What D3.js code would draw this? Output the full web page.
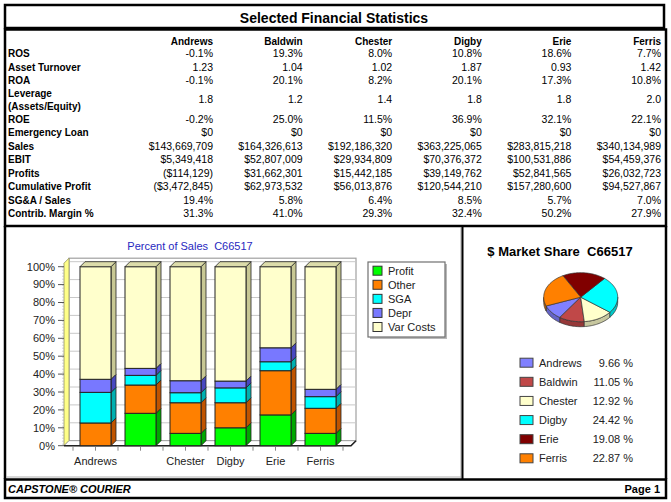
<!DOCTYPE html>
<html><head><meta charset="utf-8">
<script src="https://cdn.jsdelivr.net/npm/d3@7"></script>
<style>body{margin:0;background:#fff;} svg{display:block;font-family:"Liberation Sans",Arial,sans-serif;} text{white-space:pre;}</style>
</head><body><svg id="c" width="671" height="502"></svg>
<script>
// ---------- DATA ----------
const companies = ["Andrews","Baldwin","Chester","Digby","Erie","Ferris"];
const rowLabels = ["ROS","Asset Turnover","ROA","Leverage|(Assets/Equity)","ROE","Emergency Loan","Sales","EBIT","Profits","Cumulative Profit","SG&A / Sales","Contrib. Margin %"];
const rosRow      = ["-0.1%","19.3%","8.0%","10.8%","18.6%","7.7%"];
const turnoverRow = ["1.23","1.04","1.02","1.87","0.93","1.42"];
const roaRow      = ["-0.1%","20.1%","8.2%","20.1%","17.3%","10.8%"];
const leverageRow = ["1.8","1.2","1.4","1.8","1.8","2.0"];
const roeRow      = ["-0.2%","25.0%","11.5%","36.9%","32.1%","22.1%"];
const loanRow     = ["$0","$0","$0","$0","$0","$0"];
const salesRow    = ["$143,669,709","$164,326,613","$192,186,320","$363,225,065","$283,815,218","$340,134,989"];
const ebitRow     = ["$5,349,418","$52,807,009","$29,934,809","$70,376,372","$100,531,886","$54,459,376"];
const profitsRow  = ["($114,129)","$31,662,301","$15,442,185","$39,149,762","$52,841,565","$26,032,723"];
const cumProfRow  = ["($3,472,845)","$62,973,532","$56,013,876","$120,544,210","$157,280,600","$94,527,867"];
const sgaRow      = ["19.4%","5.8%","6.4%","8.5%","5.7%","7.0%"];
const cmRow       = ["31.3%","41.0%","29.3%","32.4%","50.2%","27.9%"];
const tableRows = [rosRow,turnoverRow,roaRow,leverageRow,roeRow,loanRow,salesRow,ebitRow,profitsRow,cumProfRow,sgaRow,cmRow];

const seriesNames = ["Profit","Other","SGA","Depr","Var Costs"];
const profitPct = [0, 18.1, 6.9, 10.0, 17.2, 6.9];
const otherPct  = [12.7, 15.8, 17.1, 14.0, 24.7, 14.0];
const sgaPct    = [17.1, 5.4, 5.6, 8.3, 5.0, 6.5];
const deprPct   = [7.3, 3.9, 6.7, 3.8, 7.8, 4.1];
const varPct    = [62.9, 56.8, 63.7, 63.9, 45.3, 68.5];
const yTicks = [0,10,20,30,40,50,60,70,80,90,100];
const xLabelsShown = ["Andrews","","Chester","Digby","Erie","Ferris"];

const marketShare = [9.66, 11.05, 12.92, 24.42, 19.08, 22.87];

// ---------- STYLE ----------
const barColors = {"Profit":"#00ff00","Other":"#ff8000","SGA":"#00ffff","Depr":"#7878ff","Var Costs":"#ffffcc"};
const sideColors = {"Profit":"#00a800","Other":"#c05400","SGA":"#00b0b0","Depr":"#4848c0","Var Costs":"#c8c894"};
const pieColors = ["#8080ff","#c04848","#ffffcc","#00ffff","#800000","#ff8000"];

const svg = d3.select("#c");

// ---------- FRAMES ----------
svg.append("rect").attr("x",5).attr("y",5).attr("width",659).attr("height",23).attr("fill","#fff").attr("stroke","#000").attr("stroke-width",2.5);
svg.append("text").attr("x",334).attr("y",18).attr("dy","0.35em").attr("text-anchor","middle")
  .attr("font-size",14).attr("font-weight","bold").text("Selected Financial Statistics");
svg.append("rect").attr("x",5).attr("y",29.5).attr("width",661).attr("height",196.5).attr("fill","none").attr("stroke","#000").attr("stroke-width",2.5);
// panels
svg.append("line").attr("x1",5).attr("x2",5).attr("y1",226).attr("y2",479).attr("stroke","#000").attr("stroke-width",2.5);
svg.append("line").attr("x1",666).attr("x2",666).attr("y1",226).attr("y2",479).attr("stroke","#000").attr("stroke-width",2.5);
svg.append("line").attr("x1",461).attr("x2",461).attr("y1",227).attr("y2",478).attr("stroke","#a8a8a8").attr("stroke-width",1);
svg.append("line").attr("x1",462.5).attr("x2",462.5).attr("y1",226).attr("y2",479).attr("stroke","#000").attr("stroke-width",2);
svg.append("line").attr("x1",6).attr("x2",461).attr("y1",477).attr("y2",477).attr("stroke","#b0b0b0").attr("stroke-width",1);
// footer
svg.append("rect").attr("x",5).attr("y",479.5).attr("width",661).attr("height",18.5).attr("fill","#fff").attr("stroke","#000").attr("stroke-width",2.5);
svg.append("text").attr("x",8).attr("y",489).attr("dy","0.35em").attr("font-size",11).attr("font-weight","bold").attr("font-style","italic").text("CAPSTONE® COURIER");
svg.append("text").attr("x",660).attr("y",489).attr("dy","0.35em").attr("text-anchor","end").attr("font-size",11).attr("font-weight","bold").text("Page 1");

// ---------- TABLE ----------
const colX = d3.scalePoint().domain(companies).range([213, 661]);
const tbl = svg.append("g");
tbl.selectAll(".hdr").data(companies).join("text")
  .attr("x",d=>colX(d)).attr("y",41.5).attr("dy","0.35em").attr("text-anchor","end")
  .attr("font-size",10).attr("font-weight","bold").text(d=>d);
let yc = 53.5, prevH = null;
const rowCenters = [];
rowLabels.forEach((lab,i)=>{
  const h = lab.includes("|") ? 25 : 13.5;
  if (prevH !== null) yc += prevH/2 + h/2;
  rowCenters.push(yc); prevH = h;
});
rowLabels.forEach((lab,i)=>{
  const cy = rowCenters[i];
  const parts = lab.split("|");
  if (parts.length === 2) {
    tbl.append("text").attr("x",8).attr("y",cy-6).attr("dy","0.35em").attr("font-size",10).attr("font-weight","bold").text(parts[0]);
    tbl.append("text").attr("x",8).attr("y",cy+6.5).attr("dy","0.35em").attr("font-size",10).attr("font-weight","bold").text(parts[1]);
  } else {
    tbl.append("text").attr("x",8).attr("y",cy).attr("dy","0.35em").attr("font-size",10).attr("font-weight","bold").text(lab);
  }
  tbl.selectAll(null).data(tableRows[i]).join("text")
    .attr("x",(d,j)=>colX(companies[j])).attr("y",cy).attr("dy","0.35em").attr("text-anchor","end")
    .attr("font-size",10.5).text(d=>d);
});

// ---------- STACKED 3D BAR CHART ----------
const DX = 5, DY = 5;
const x = d3.scaleBand().domain(companies).range([73, 343]).paddingInner(14/45).paddingOuter(7/45);
const y = d3.scaleLinear().domain([0,100]).range([445.7, 266.7]);
const X0 = 64, X1 = 351;
const frameTop = y(100) - 3.5;
const pc = svg.append("g");

svg.append("text").attr("x",190).attr("y",246.5).attr("dy","0.35em").attr("text-anchor","middle")
  .attr("font-size",11).attr("fill","#2828c0").text("Percent of Sales  C66517");

// back wall
pc.append("rect").attr("x",X0+DX).attr("y",frameTop-DY).attr("width",X1-X0).attr("height",y(0)-frameTop)
  .attr("fill","#fff").attr("stroke","#a0a0a0").attr("stroke-width",1.2);
pc.selectAll(".grid").data(yTicks).join("line")
  .attr("x1",X0+DX).attr("x2",X1+DX).attr("y1",d=>y(d)-DY).attr("y2",d=>y(d)-DY)
  .attr("stroke","#c8c8c8").attr("stroke-width",1);
// left wall
pc.append("polygon").attr("points",[[X0,frameTop],[X0+DX,frameTop-DY],[X0+DX,y(0)-DY],[X0,y(0)]].join(" "))
  .attr("fill","#ffff88").attr("stroke","#909060").attr("stroke-width",0.8);
// floor
pc.append("polygon").attr("points",[[X0,y(0)],[X0+DX,y(0)-DY],[X1+DX,y(0)-DY],[X1,y(0)]].join(" "))
  .attr("fill","#fff").attr("stroke","#909090").attr("stroke-width",0.8);
pc.append("polyline").attr("points",[[X0,y(0)],[X1,y(0)],[X1+DX,y(0)-DY]].join(" "))
  .attr("fill","none").attr("stroke","#222").attr("stroke-width",1.6);

// y axis
pc.append("line").attr("x1",X0-1).attr("x2",X0-1).attr("y1",y(100)).attr("y2",y(0)).attr("stroke","#aaa").attr("stroke-dasharray","1,2");
pc.selectAll(".yt").data(yTicks).join("line")
  .attr("x1",58).attr("x2",X0).attr("y1",d=>y(d)).attr("y2",d=>y(d)).attr("stroke","#555");
pc.selectAll(".yl").data(yTicks).join("text")
  .attr("x",55).attr("y",d=>y(d)).attr("dy","0.35em").attr("text-anchor","end")
  .attr("font-size",11).attr("fill","#222").text(d=>d+"%");

// x ticks and labels
const xtickPos = [];
companies.forEach(c=>{ xtickPos.push(x(c)-x.step()*7/45); xtickPos.push(x(c)+x.bandwidth()/2); });
xtickPos.push(x(companies[companies.length-1]) + x.bandwidth() + x.step()*7/45);
pc.selectAll(".xt").data(xtickPos).join("line")
  .attr("x1",d=>d).attr("x2",d=>d).attr("y1",y(0)+1).attr("y2",y(0)+5).attr("stroke","#888");
pc.selectAll(".xl").data(companies).join("text")
  .attr("x",d=>x(d)+x.bandwidth()/2).attr("y",461).attr("dy","0.35em").attr("text-anchor","middle")
  .attr("font-size",11).attr("fill","#222").text((d,i)=>xLabelsShown[i]);

// stack
const rows = companies.map((c,i)=>({company:c,"Profit":profitPct[i],"Other":otherPct[i],"SGA":sgaPct[i],"Depr":deprPct[i],"Var Costs":varPct[i]}));
const stacked = d3.stack().keys(seriesNames)(rows);
const bw = x.bandwidth();
companies.forEach((c,ci)=>{
  const g = pc.append("g");
  const xb = x(c);
  stacked.forEach((layer,li)=>{
    const [lo,hi] = layer[ci];
    if (hi - lo <= 0) return;
    const key = layer.key;
    g.append("polygon").attr("points",[[xb+bw,y(hi)],[xb+bw+DX,y(hi)-DY],[xb+bw+DX,y(lo)-DY],[xb+bw,y(lo)]].join(" "))
      .attr("fill",sideColors[key]).attr("stroke","#222").attr("stroke-width",0.8);
    g.append("rect").attr("x",xb).attr("y",y(hi)).attr("width",bw).attr("height",y(lo)-y(hi))
      .attr("fill",barColors[key]).attr("stroke","#222").attr("stroke-width",1);
  });
  const top = stacked[stacked.length-1][ci][1];
  g.append("polygon").attr("points",[[xb,y(top)],[xb+DX,y(top)-DY],[xb+bw+DX,y(top)-DY],[xb+bw,y(top)]].join(" "))
    .attr("fill","#dcdcaa").attr("stroke","#222").attr("stroke-width",0.8);
});

// legend
const lg = svg.append("g");
lg.append("rect").attr("x",370).attr("y",264).attr("width",77).attr("height",75).attr("fill","#b8b8b8");
lg.append("rect").attr("x",368).attr("y",262).attr("width",77).attr("height",75).attr("fill","#fff").attr("stroke","#707070").attr("stroke-width",1.2);
const ly = d3.scalePoint().domain(seriesNames).range([270.7, 327]);
lg.selectAll(".sw").data(seriesNames).join("rect")
  .attr("x",373).attr("y",d=>ly(d)-4.5).attr("width",9).attr("height",9)
  .attr("fill",d=>barColors[d]).attr("stroke","#333").attr("stroke-width",1);
lg.selectAll(".lt").data(seriesNames).join("text")
  .attr("x",388).attr("y",d=>ly(d)).attr("dy","0.35em").attr("font-size",11).attr("fill","#222").text(d=>d);

// ---------- PIE ----------
svg.append("text").attr("x",560).attr("y",251).attr("dy","0.35em").attr("text-anchor","middle")
  .attr("font-size",13).attr("font-weight","bold").text("$ Market Share  C66517");
const cx = 580.7, cy = 297.2, rx = 37, ry = 24.5, depth = 5;
const phi0 = -111*Math.PI/180;
const arcs = d3.pie().sort(null).value(d=>d).startAngle(phi0).endAngle(phi0-2*Math.PI)(marketShare);
const pt = (a,off=0)=>[cx+rx*Math.sin(a), cy-ry*Math.cos(a)+off];
const samples = (a0,a1)=>{ const n = Math.max(2, Math.ceil(Math.abs(a1-a0)/0.04)); return d3.range(n+1).map(k=>a0+(a1-a0)*k/n); };
const pg = svg.append("g");
// sides (front half only)
arcs.forEach((a,i)=>{
  const s = samples(a.startAngle,a.endAngle);
  let seg = [];
  const segs = [];
  s.forEach(t=>{ if (Math.cos(t) < 0.02) seg.push(t); else { if (seg.length>1) segs.push(seg); seg=[]; } });
  if (seg.length>1) segs.push(seg);
  segs.forEach(sg=>{
    const pts = sg.map(t=>pt(t)).concat(sg.slice().reverse().map(t=>pt(t,depth)));
    pg.append("polygon").attr("points",pts.join(" "))
      .attr("fill",d3.color(pieColors[i]).darker(0.7)).attr("stroke","#333").attr("stroke-width",0.7);
  });
});
arcs.forEach((a,i)=>{
  const s = samples(a.startAngle,a.endAngle);
  const pts = [[cx,cy]].concat(s.map(t=>pt(t)));
  pg.append("polygon").attr("points",pts.join(" "))
    .attr("fill",pieColors[i]).attr("stroke","#333").attr("stroke-width",0.7);
});

// pie legend
const py = d3.scalePoint().domain(companies).range([362.7, 458.3]);
const pl = svg.append("g");
pl.selectAll(".ps").data(companies).join("rect")
  .attr("x",520).attr("y",d=>py(d)-4.5).attr("width",13).attr("height",9)
  .attr("fill",(d,i)=>pieColors[i]).attr("stroke","#444").attr("stroke-width",1);
pl.selectAll(".pn").data(companies).join("text")
  .attr("x",539).attr("y",d=>py(d)).attr("dy","0.35em").attr("font-size",11).attr("fill","#222").text(d=>d);
pl.selectAll(".pv").data(marketShare).join("text")
  .attr("x",633).attr("y",(d,i)=>py(companies[i])).attr("dy","0.35em").attr("text-anchor","end")
  .attr("font-size",11).attr("fill","#222").text(d=>d.toFixed(2)+" %");
</script></body></html>
